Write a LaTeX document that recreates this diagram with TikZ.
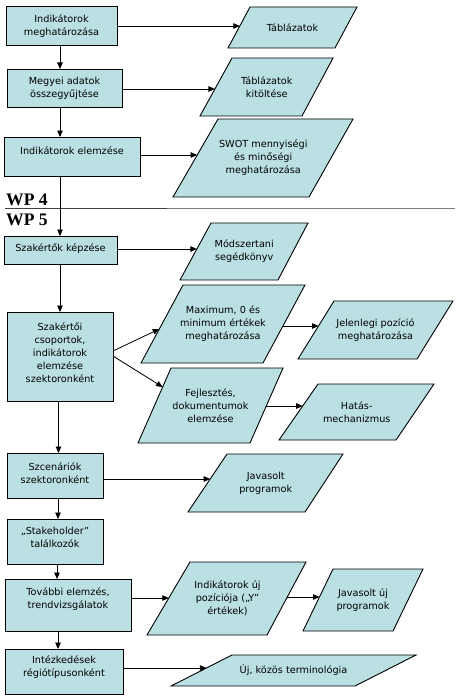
\documentclass[tikz,border=0pt]{standalone}
\usepackage{fontspec}
\setmainfont{DejaVu Sans}
\newfontfamily\wpfont{Liberation Serif}
\usetikzlibrary{arrows.meta,calc}
\definecolor{fillc}{RGB}{187,224,227}
\tikzset{
 boxst/.style={draw=black, line width=0.9pt, fill=fillc, inner sep=0pt, outer sep=0pt},
 parast/.style={draw=black, line width=0.9pt, fill=fillc, line join=miter},
 txt/.style={font=\fontsize{9.7}{13}\selectfont, align=center, inner sep=0pt, text=black},
 arr/.style={draw=black, line width=0.8pt, -{Triangle[length=6.5pt,width=5.5pt]}},
 wpst/.style={font=\wpfont\bfseries\fontsize{17.6}{20}\selectfont, inner sep=0pt, anchor=base west},
}
% name, x1, y1, x2, y2, text y, text
\newcommand{\flowbox}[7]{%
 \node[boxst, minimum width={(#4-#2)*1pt}, minimum height={(#5-#3)*1pt}] (#1) at ({(#2+#4)/2},{(#3+#5)/2}) {};
 \node[txt] (#1t) at ({(#2+#4)/2},#6) {#7};
}
% name, bl x, tl x, tr x, br x, top y, bottom y, text
\newcommand{\parabox}[8]{%
 \path[parast] (#2,#7) -- (#3,#6) -- (#4,#6) -- (#5,#7) -- cycle;
 \node[txt] (#1) at ({(#2+#3+#4+#5)/4},{(#6+#7)/2}) {#8};
}
\begin{document}
\begin{tikzpicture}[x=1pt,y=-1pt]
\useasboundingbox (0,0) rectangle (455,698);
\fill[white] (0,0) rectangle (455,698);

% separator between WP 4 and WP 5
\coordinate (sepL) at (5,208.7);
\coordinate (sepM) at (167,208.7);
\coordinate (sepR) at (455,208.7);
\draw[line width=0.8pt, black!75] (sepL) -- (sepM);
\draw[line width=1.2pt, black!50] (sepM) -- (sepR);
\node[wpst] (wp4) at (6,205.5) {WP 4};
\node[wpst] (wp5) at (6,225) {WP 5};

% process boxes
\flowbox{b1}{6}{6}{117}{45}{26.5}{Indikátorok\\meghatározása}
\flowbox{b2}{7}{69}{122}{107}{88.3}{Megyei adatok\\összegyűjtése}
\flowbox{b3}{4}{137}{140}{176}{151}{Indikátorok elemzése}
\flowbox{b4}{4}{236}{117}{264}{249}{Szakértők képzése}
\flowbox{b5}{7}{312}{113}{401}{352.5}{Szakértői\\csoportok,\\indikátorok\\elemzése\\szektoronként}
\flowbox{b6}{7}{453}{103}{498}{473}{Szcenáriók\\szektoronként}
\flowbox{b7}{7}{519}{103}{564}{537}{„Stakeholder”\\találkozók}
\flowbox{b8}{5}{579}{131}{631}{599}{További elemzés,\\trendvizsgálatok}
\flowbox{b9}{5}{649}{123}{694}{667.5}{Intézkedések\\régiótípusonként}

% data parallelograms
\parabox{p1}{228}{250}{357}{335}{7}{48}{Táblázatok}
\parabox{p2}{200}{232}{333}{302}{58}{116}{Táblázatok\\kitöltése}
\parabox{p3}{173}{218}{353}{309}{119}{197}{SWOT mennyiségi\\és minőségi\\meghatározása}
\parabox{p4}{180}{211}{308}{278}{223}{280}{Módszertani\\segédkönyv}
\parabox{p5}{141}{183}{305}{263}{285}{363}{Maximum, 0 és\\minimum értékek\\meghatározása}
\parabox{p6}{138}{171}{283}{250}{368}{443}{Fejlesztés,\\dokumentumok\\elemzése}
\parabox{p7}{298}{334}{453}{417}{301}{359}{Jelenlegi pozíció\\meghatározása}
\parabox{p8}{279}{318}{434}{396}{384}{440}{Hatás-\\mechanizmus}
\parabox{p9}{188}{227}{343}{305}{454}{512}{Javasolt\\programok}
\parabox{p10}{147}{190}{306}{267}{562}{635}{Indikátorok új\\pozíciója („Y”\\értékek)}
\parabox{p11}{303}{333}{423}{393}{569}{631}{Javasolt új\\programok}
\parabox{p12}{171}{232}{416}{355}{655}{686}{Új, közös terminológia}

% columns of the vertical connectors
\coordinate (colA) at (60,0);
\coordinate (colB) at (58.5,0);
\coordinate (colC) at (58,0);
\coordinate (colD) at (57,0);

\draw[arr] (b1.south -| colA) -- (b2.north -| colA);
\draw[arr] (b2.south -| colA) -- (b3.north -| colA);
\draw[arr] (b3.south -| colA) -- (b4.north -| colA);
\draw[arr] (b4.south -| colA) -- (b5.north -| colA);
\draw[arr] (b5.south -| colB) -- (b6.north -| colB);
\draw[arr] (b6.south -| colC) -- (b7.north -| colC);
\draw[arr] (b7.south -| colD) -- (b8.north -| colD);
\draw[arr] (b8.south -| colC) -- (b9.north -| colC);

% entry / exit points on the slanted sides
\coordinate (p1in) at (239.8,26);
\coordinate (p2in) at (214.9,89);
\coordinate (p3in) at (197.2,155);
\coordinate (p4in) at (196.9,249);
\coordinate (p5in) at (159.3,329);
\coordinate (p6in) at (162.6,387);
\coordinate (p5out) at (282.9,326);
\coordinate (p7in) at (318.5,326);
\coordinate (p6out) at (266.3,406);
\coordinate (p8in) at (302.7,406);
\coordinate (p9in) at (210.2,479);
\coordinate (p10in) at (168.8,598);
\coordinate (p10out) at (287.3,597);
\coordinate (p11in) at (319.5,597);
\coordinate (p12in) at (206.4,668);

\draw[arr] (b1.east |- p1in) -- (p1in);
\draw[arr] (b2.east |- p2in) -- (p2in);
\draw[arr] (b3.east |- p3in) -- (p3in);
\draw[arr] (b4.east |- p4in) -- (p4in);
\draw[arr] ([yshift=5.5pt]b5.east) -- (p5in);
\draw[arr] ([yshift=0.5pt]b5.east) -- (p6in);
\draw[arr] (p5out) -- (p7in);
\draw[arr] (p6out) -- (p8in);
\draw[arr] (b6.east |- p9in) -- (p9in);
\draw[arr] (b8.east |- p10in) -- (p10in);
\draw[arr] (p10out) -- (p11in);
\draw[arr] (b9.east |- p12in) -- (p12in);
\end{tikzpicture}
\end{document}
